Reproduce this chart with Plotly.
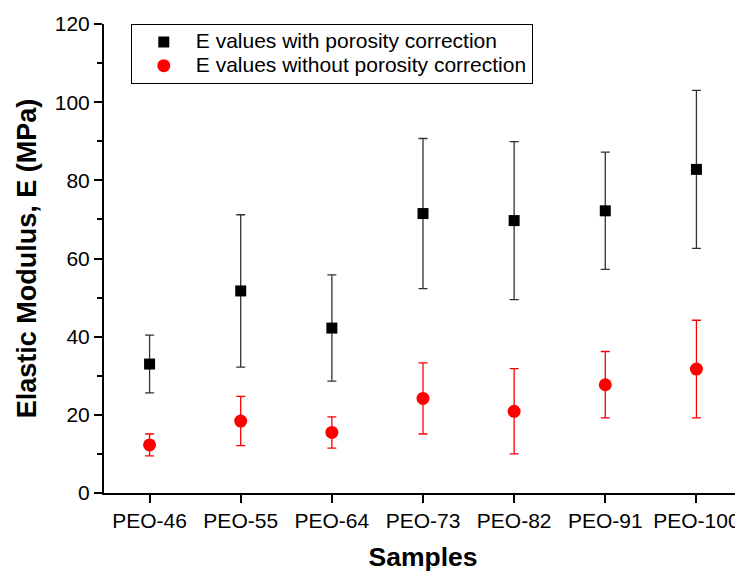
import plotly.graph_objects as go

samples = ["PEO-46", "PEO-55", "PEO-64", "PEO-73", "PEO-82", "PEO-91", "PEO-100"]
e_corrected = [33.0, 51.7, 42.2, 71.5, 69.7, 72.2, 82.8]
e_corrected_err = [7.4, 19.5, 13.6, 19.2, 20.2, 15.0, 20.2]
e_uncorrected = [12.3, 18.4, 15.5, 24.2, 20.9, 27.7, 31.7]
e_uncorrected_err = [2.8, 6.3, 4.0, 9.1, 10.9, 8.5, 12.5]
series_names = ["E values with porosity correction", "E values without porosity correction"]

font_family = "Liberation Sans, Arial, sans-serif"


def legend_label(text):
    return '<span style="font-size:21px">' + text + "</span>"


fig = go.Figure()
fig.add_trace(go.Scatter(
    x=samples, y=e_corrected, mode="markers",
    name=legend_label(series_names[0]),
    marker=dict(symbol="square", size=11, color="black"),
    error_y=dict(type="data", array=e_corrected_err, visible=True,
                 color="#333333", thickness=1.3, width=4.5),
))
fig.add_trace(go.Scatter(
    x=samples, y=e_uncorrected, mode="markers",
    name=legend_label(series_names[1]),
    marker=dict(symbol="circle", size=13, color="#ff0000"),
    error_y=dict(type="data", array=e_uncorrected_err, visible=True,
                 color="#ff0000", thickness=1.3, width=4.5),
))

# page body has an 8px margin; compensate so the plot area lands where the reference has it
fig.update_layout(
    width=735, height=564,
    margin=dict(l=96, r=1, t=16, b=78.5),
    plot_bgcolor="white", paper_bgcolor="white",
    font=dict(family=font_family, size=21, color="black"),
    showlegend=True,
    legend=dict(
        x=0.042, y=1.0, xanchor="left", yanchor="top",
        bgcolor="white", bordercolor="black", borderwidth=1,
        font=dict(size=16), itemwidth=54, tracegroupgap=0,
    ),
    xaxis=dict(
        type="category", range=[-0.5, 6.5],
        showline=True, linecolor="black", linewidth=2,
        ticks="outside", ticklen=8, tickwidth=2, tickcolor="black",
        minor=dict(ticks="outside", ticklen=5, tickwidth=2, tickcolor="black"),
        showgrid=False, zeroline=False,
        tickfont=dict(size=21),
        title=dict(text="<b>Samples</b>", font=dict(size=26.5), standoff=17),
    ),
    yaxis=dict(
        range=[0, 120], tickvals=[0, 20, 40, 60, 80, 100, 120],
        showline=True, linecolor="black", linewidth=2,
        ticks="outside", ticklen=8, tickwidth=2, tickcolor="black",
        minor=dict(tickvals=[10, 30, 50, 70, 90, 110], ticks="outside", ticklen=5,
                   tickwidth=2, tickcolor="black"),
        showgrid=False, zeroline=False,
        tickfont=dict(size=21),
        title=dict(text="<b>Elastic Modulus, E (MPa)</b>", font=dict(size=27), standoff=10),
    ),
)

fig.write_html("out.html")
